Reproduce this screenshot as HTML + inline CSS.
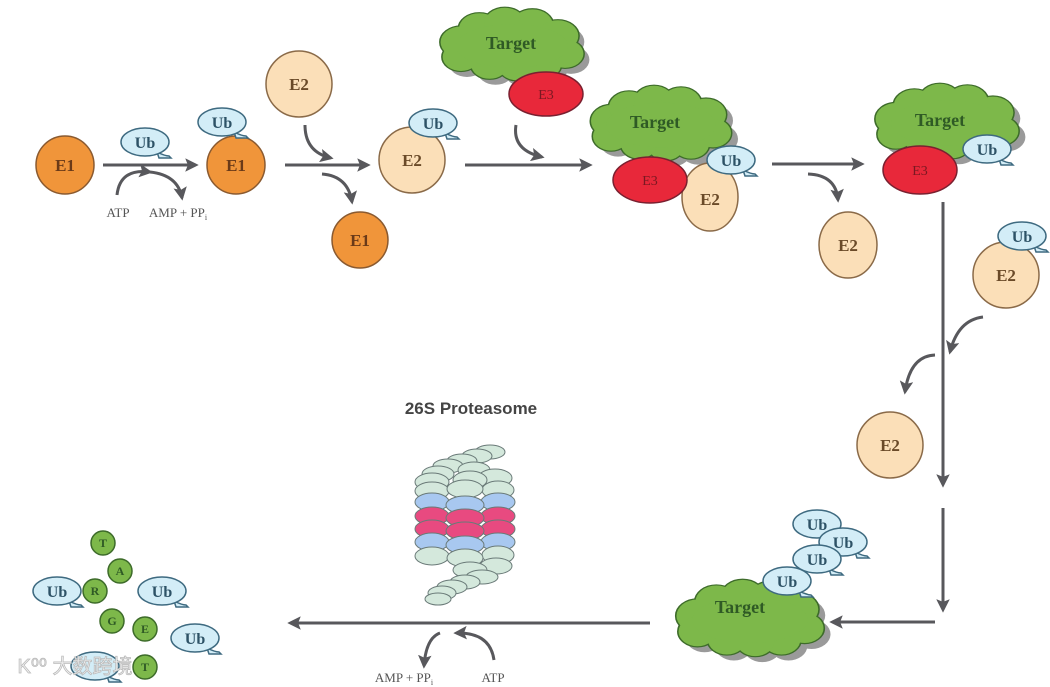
<!DOCTYPE html>
<html><head><meta charset="utf-8"><style>
html,body{margin:0;padding:0;background:#fff;}
svg{display:block}
text{font-family:"Liberation Serif",serif;font-weight:bold;text-anchor:middle;}
</style></head><body>
<svg width="1050" height="687" viewBox="0 0 1050 687" xmlns="http://www.w3.org/2000/svg">
<defs>
<marker id="ah" viewBox="0 0 10 10" refX="8" refY="5" markerWidth="4.5" markerHeight="4.5" orient="auto-start-reverse">
<path d="M0,0 L10,5 L0,10 L2,5 Z" fill="#58585c"/></marker>
<g id="cl">
<circle cx="-50" cy="-5" r="20"/><circle cx="-32" cy="-22" r="20"/><circle cx="-7" cy="-29" r="20"/>
<circle cx="20" cy="-27" r="20"/><circle cx="45" cy="-13" r="20"/><circle cx="52" cy="10" r="18"/>
<circle cx="30" cy="24" r="18"/><circle cx="5" cy="26" r="18"/><circle cx="-22" cy="24" r="18"/>
<circle cx="-50" cy="14" r="18"/><ellipse cx="0" cy="0" rx="55" ry="28"/>
</g>
<g id="ub">
<path d="M12,10 Q20,14 24,14 L26,16 L14,16 Z"/>
<ellipse cx="0" cy="0" rx="24" ry="14"/>
</g>
</defs>

<g fill="none" stroke="#58585c" stroke-width="3">
<line x1="103" y1="165" x2="196" y2="165" marker-end="url(#ah)"/>
<line x1="285" y1="165" x2="368" y2="165" marker-end="url(#ah)"/>
<line x1="465" y1="165" x2="590" y2="165" marker-end="url(#ah)"/>
<line x1="772" y1="164" x2="862" y2="164" marker-end="url(#ah)"/>
<line x1="943" y1="202" x2="943" y2="485" marker-end="url(#ah)"/>
<line x1="943" y1="508" x2="943" y2="610" marker-end="url(#ah)"/>
<line x1="935" y1="622" x2="832" y2="622" marker-end="url(#ah)"/>
<line x1="650" y1="623" x2="290" y2="623" marker-end="url(#ah)"/>
<path d="M117,195 Q120,168 150,172" marker-end="url(#ah)"/>
<path d="M150,172 Q178,175 182,198" marker-end="url(#ah)"/>
<path d="M305,125 Q305,152 331,158" marker-end="url(#ah)"/>
<path d="M322,174 Q348,176 352,202" marker-end="url(#ah)"/>
<path d="M516,125 Q512,150 542,157" marker-end="url(#ah)"/>
<path d="M808,174 Q836,175 838,200" marker-end="url(#ah)"/>
<path d="M983,317 Q958,320 950,352" marker-end="url(#ah)"/>
<path d="M935,355 Q910,356 905,392" marker-end="url(#ah)"/>
<path d="M494,660 Q490,632 456,633" marker-end="url(#ah)"/>
<path d="M440,633 Q426,638 424,666" marker-end="url(#ah)"/>
</g>

<g font-size="13" fill="#555">
<text x="118" y="217" style="font-weight:normal">ATP</text>
<text x="178" y="217" style="font-weight:normal">AMP + PP<tspan font-size="8" dy="3">i</tspan></text>
<text x="404" y="682" style="font-weight:normal">AMP + PP<tspan font-size="8" dy="3">i</tspan></text>
<text x="493" y="682" style="font-weight:normal">ATP</text>
</g>

<g fill="#f0953a" stroke="#8a5a30" stroke-width="1.5">
<circle cx="65" cy="165" r="29"/><circle cx="236" cy="165" r="29"/><circle cx="360" cy="240" r="28"/>
</g>
<g fill="#fbdfb8" stroke="#8a6a48" stroke-width="1.5">
<circle cx="299" cy="84" r="33"/><circle cx="412" cy="160" r="33"/>
<ellipse cx="848" cy="245" rx="29" ry="33"/><circle cx="1006" cy="275" r="33"/><circle cx="890" cy="445" r="33"/>
</g>

<use href="#cl" transform="translate(518,52) scale(1.02,0.78)" fill="#9a9a9a"/>
<use href="#cl" transform="translate(512,46) scale(1.02,0.78)" fill="#7db84a" stroke="#3d6b2a" stroke-width="3"/>
<use href="#cl" transform="translate(512,46) scale(1.02,0.78)" fill="#7db84a"/>
<use href="#cl" transform="translate(668,131) scale(1.0,0.8)" fill="#9a9a9a"/>
<use href="#cl" transform="translate(661,125) scale(1.0,0.8)" fill="#7db84a" stroke="#3d6b2a" stroke-width="3"/>
<use href="#cl" transform="translate(661,125) scale(1.0,0.8)" fill="#7db84a"/>
<use href="#cl" transform="translate(954,129) scale(1.02,0.8)" fill="#9a9a9a"/>
<use href="#cl" transform="translate(947,123) scale(1.02,0.8)" fill="#7db84a" stroke="#3d6b2a" stroke-width="3"/>
<use href="#cl" transform="translate(947,123) scale(1.02,0.8)" fill="#7db84a"/>
<use href="#cl" transform="translate(757,626) scale(1.05,0.82)" fill="#9a9a9a"/>
<use href="#cl" transform="translate(750,620) scale(1.05,0.82)" fill="#7db84a" stroke="#3d6b2a" stroke-width="3"/>
<use href="#cl" transform="translate(750,620) scale(1.05,0.82)" fill="#7db84a"/>

<g font-size="18" fill="#2f5a25">
<text x="511" y="49">Target</text>
<text x="655" y="128">Target</text>
<text x="940" y="126">Target</text>
<text x="740" y="613">Target</text>
</g>

<g fill="#e8283a" stroke="#7a2030" stroke-width="1.5">
<ellipse cx="546" cy="94" rx="37" ry="22"/>
<ellipse cx="710" cy="197" rx="28" ry="34" fill="#fbdfb8" stroke="#8a6a48"/>
<ellipse cx="650" cy="180" rx="37" ry="23"/>
<ellipse cx="920" cy="170" rx="37" ry="24"/>
</g>
<g font-size="14" fill="#7a1822">
<text x="546" y="99" style="font-weight:normal">E3</text>
<text x="650" y="185" style="font-weight:normal">E3</text>
<text x="920" y="175" style="font-weight:normal">E3</text>
</g>

<g fill="#d3edf7" stroke="#3e6a80" stroke-width="1.5">
<use href="#ub" x="145" y="142"/><use href="#ub" x="222" y="122"/><use href="#ub" x="433" y="123"/>
<use href="#ub" x="731" y="160"/><use href="#ub" x="987" y="149"/><use href="#ub" x="1022" y="236"/>
<use href="#ub" x="817" y="524"/><use href="#ub" x="843" y="542"/><use href="#ub" x="817" y="559"/><use href="#ub" x="787" y="581"/>
<use href="#ub" x="57" y="591"/><use href="#ub" x="162" y="591"/><use href="#ub" x="195" y="638"/><use href="#ub" x="95" y="666"/>
</g>
<g font-size="16" fill="#2d5266">
<text x="145" y="148">Ub</text><text x="222" y="128">Ub</text><text x="433" y="129">Ub</text>
<text x="731" y="166">Ub</text><text x="987" y="155">Ub</text><text x="1022" y="242">Ub</text>
<text x="817" y="530">Ub</text><text x="843" y="548">Ub</text><text x="817" y="565">Ub</text><text x="787" y="587">Ub</text>
<text x="57" y="597">Ub</text><text x="162" y="597">Ub</text><text x="195" y="644">Ub</text>
</g>

<g font-size="17" fill="#6a3a18">
<text x="65" y="171">E1</text><text x="236" y="171">E1</text><text x="360" y="246">E1</text>
<text x="299" y="90" fill="#6a4a28">E2</text><text x="412" y="166" fill="#6a4a28">E2</text>
<text x="710" y="205" fill="#6a4a28">E2</text><text x="848" y="251" fill="#6a4a28">E2</text>
<text x="1006" y="281" fill="#6a4a28">E2</text><text x="890" y="451" fill="#6a4a28">E2</text>
</g>

<g fill="#7db84a" stroke="#3d6b2a" stroke-width="1.5">
<circle cx="103" cy="543" r="12"/><circle cx="120" cy="571" r="12"/><circle cx="95" cy="591" r="12"/>
<circle cx="112" cy="621" r="12"/><circle cx="145" cy="629" r="12"/><circle cx="145" cy="667" r="12"/>
</g>
<g font-size="12" fill="#2f5a25">
<text x="103" y="547">T</text><text x="120" y="575">A</text><text x="95" y="595">R</text>
<text x="112" y="625">G</text><text x="145" y="633">E</text><text x="145" y="671">T</text>
</g>

<text x="471" y="414" font-size="17" fill="#444" style="font-family:'Liberation Sans','DejaVu Sans',sans-serif">26S Proteasome</text>

<g stroke="#6a7a78" stroke-width="1" fill="#d4e8dc">
<ellipse cx="490" cy="452" rx="15" ry="7"/><ellipse cx="477" cy="456" rx="15" ry="7"/><ellipse cx="462" cy="461" rx="15" ry="7"/>
<ellipse cx="448" cy="466" rx="15" ry="7"/><ellipse cx="474" cy="470" rx="16" ry="8"/><ellipse cx="438" cy="474" rx="16" ry="8"/>
<ellipse cx="495" cy="478" rx="17" ry="9"/><ellipse cx="470" cy="480" rx="17" ry="9"/><ellipse cx="432" cy="482" rx="17" ry="9"/>
<ellipse cx="432" cy="491" rx="17" ry="9"/><ellipse cx="498" cy="490" rx="16" ry="9"/><ellipse cx="465" cy="489" rx="18" ry="9"/>
</g>
<g stroke="#6a7a78" stroke-width="1" fill="#a8c8f0">
<ellipse cx="432" cy="502" rx="17" ry="9"/><ellipse cx="498" cy="502" rx="17" ry="9"/><ellipse cx="465" cy="505" rx="19" ry="9"/>
</g>
<g stroke="#6a7a78" stroke-width="1" fill="#e84a80">
<ellipse cx="432" cy="516" rx="17" ry="9"/><ellipse cx="498" cy="516" rx="17" ry="9"/><ellipse cx="465" cy="518" rx="19" ry="9"/>
<ellipse cx="432" cy="529" rx="17" ry="9"/><ellipse cx="498" cy="529" rx="17" ry="9"/><ellipse cx="465" cy="531" rx="19" ry="9"/>
</g>
<g stroke="#6a7a78" stroke-width="1" fill="#a8c8f0">
<ellipse cx="432" cy="542" rx="17" ry="9"/><ellipse cx="498" cy="542" rx="17" ry="9"/><ellipse cx="465" cy="545" rx="19" ry="9"/>
</g>
<g stroke="#6a7a78" stroke-width="1" fill="#d4e8dc">
<ellipse cx="498" cy="555" rx="16" ry="9"/><ellipse cx="432" cy="556" rx="17" ry="9"/><ellipse cx="465" cy="558" rx="18" ry="9"/>
<ellipse cx="496" cy="566" rx="16" ry="8"/><ellipse cx="470" cy="570" rx="17" ry="8"/><ellipse cx="482" cy="577" rx="16" ry="7"/>
<ellipse cx="465" cy="582" rx="15" ry="7"/><ellipse cx="452" cy="587" rx="15" ry="7"/><ellipse cx="442" cy="593" rx="14" ry="7"/>
<ellipse cx="438" cy="599" rx="13" ry="6"/>
</g>

<text x="75" y="673" font-size="20" fill="#f4f4f4" stroke="#bbb" stroke-width="0.8" style="font-family:'Liberation Sans','Noto Sans CJK SC',sans-serif;font-weight:normal">K⁰⁰ 大数跨境</text>
</svg>
</body></html>
